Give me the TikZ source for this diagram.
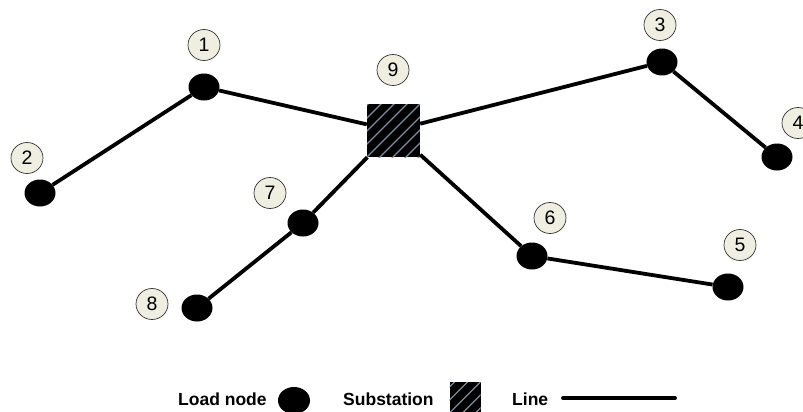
\documentclass[tikz,border=0pt]{standalone}
\usepackage{fontspec}
\setmainfont{Liberation Sans}
\usetikzlibrary{calc,shapes.geometric}
\definecolor{labelfill}{RGB}{238,238,225}
\definecolor{stripecol}{RGB}{125,140,160}
\tikzset{
  load/.style={ellipse, fill=black, minimum width=31pt, minimum height=27pt, inner sep=0pt},
  numlabel/.style={ellipse, draw=black!80, line width=0.7pt, fill=labelfill,
    minimum width=32pt, minimum height=31pt, inner sep=0pt,
    font=\fontsize{19.5}{19.5}\selectfont},
  subst/.style={rectangle, fill=black, minimum size=#1, inner sep=0pt,
    path picture={
      \foreach \k in {-4,...,4} {
        \draw[stripecol, line width=1.3pt]
          ($(path picture bounding box.center)+(\k*13pt-40pt,-40pt)$) -- ++(80pt,80pt);
      }
    }},
  link/.style={line width=3.8pt},
  legendtext/.style={font=\bfseries\fontsize{17.5}{18}\selectfont, anchor=base west, inner sep=0pt}
}
\begin{document}
\begin{tikzpicture}[x=1pt,y=-1pt]
\useasboundingbox (0,0) rectangle (803,412);
% load nodes
\node[load] (n1) at (204,87) {};
\node[load] (n2) at (40,193) {};
\node[load] (n3) at (662,62) {};
\node[load] (n4) at (777,157) {};
\node[load] (n5) at (728,287) {};
\node[load] (n6) at (532,256) {};
\node[load] (n7) at (303,223) {};
\node[load] (n8) at (197,308) {};
\node[subst=53pt] (n9) at (393.5,130.5) {};
% lines
\draw[link] (n2) -- (n1);
\draw[link] (n1) -- (n9);
\draw[link] (n9) -- (n3);
\draw[link] (n3) -- (n4);
\draw[link] (n9) -- (n7);
\draw[link] (n7) -- (n8);
\draw[link] (n9) -- (n6);
\draw[link] (n6) -- (n5);
% labels
\node[numlabel] (l1) at (204,45) {1};
\node[numlabel] (l2) at (27,158) {2};
\node[numlabel] (l3) at (660,25) {3};
\node[numlabel] (l4) at (798,123) {4};
\node[numlabel] (l5) at (740,245) {5};
\node[numlabel] (l6) at (550,218) {6};
\node[numlabel] (l7) at (270,193) {7};
\node[numlabel] (l8) at (152,304) {8};
\node[numlabel] (l9) at (393,70) {9};
% legend
\node[legendtext] (t1) at (178,405) {Load node};
\node[load, minimum width=32pt, minimum height=27pt] (lg1) at (294,400.5) {};
\node[legendtext] (t2) at (343,405) {Substation};
\node[subst=31pt] (lg2) at (465,397.5) {};
\node[legendtext] (t3) at (512,405) {Line};
\coordinate (la) at (563,398);
\coordinate (lb) at (675,398);
\draw[link, line cap=round] (la) -- (lb);
\end{tikzpicture}
\end{document}
